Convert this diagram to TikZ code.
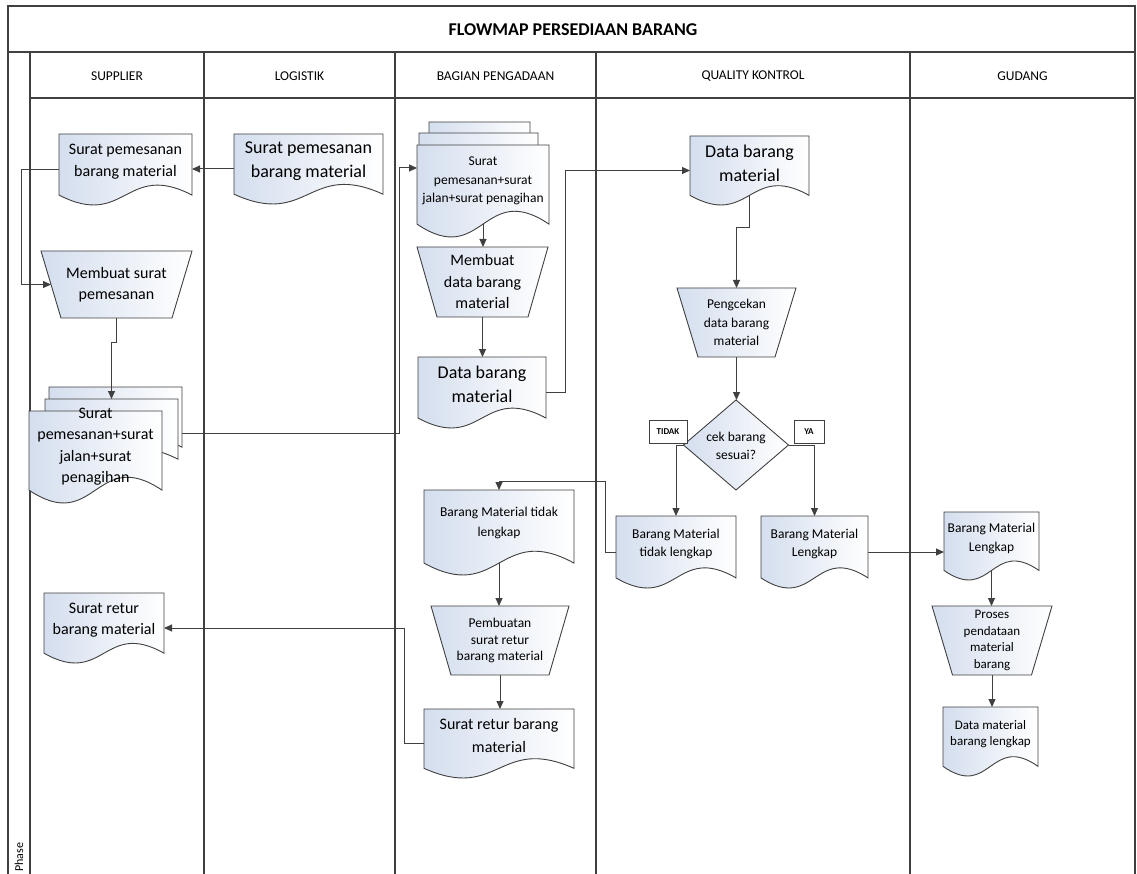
\documentclass[tikz,border=0pt]{standalone}
\usepackage{fontspec}
\setmainfont{Carlito}
\usetikzlibrary{arrows.meta,calc}
\pgfdeclarelayer{bg}
\pgfsetlayers{bg,main}
\definecolor{ln}{HTML}{404040}
\definecolor{shd}{RGB}{212,222,238}
\newcommand{\ftXL}{\fontsize{18}{24}\selectfont}
\newcommand{\ftL}{\fontsize{16}{21.5}\selectfont}
\newcommand{\ftM}{\fontsize{13.5}{18.5}\selectfont}
\newcommand{\ftP}{\fontsize{13.5}{16.5}\selectfont}
\newcommand{\ftS}{\fontsize{13}{16.5}\selectfont}
\tikzset{
  frame/.style={draw=ln, line width=1.2pt},
  shp/.style={draw=ln, line width=0.9pt, left color=shd, right color=white},
  conn/.style={draw=ln, line width=1pt},
  arr/.style={conn, -{Triangle[length=8pt,width=7pt]}},
  box/.style={inner sep=0pt, outer sep=0pt, draw=none},
  txt/.style={align=center, inner sep=0pt},
  lbl/.style={draw=ln, line width=1pt, fill=white, inner sep=0pt, font=\bfseries\fontsize{9}{10}\selectfont, minimum height=23pt},
  hdr/.style={font=\fontsize{13.5}{15}\selectfont, inner sep=0pt},
}
\newcommand{\docpath}[4]{%
  \pgfmathsetmacro\docD{0.14*(#4)}%
  \pgfmathsetmacro\docB{(#2)+(#4)-\docD}%
  \pgfmathsetmacro\docK{3.46*\docD}%
  \pgfmathsetmacro\docC{((#1)+(#3))/2}%
  \path[shp] (#1,#2) -- (#3,#2) -- (#3,\docB) .. controls (\docC,\docB-\docK) and (\docC,\docB+\docK) .. (#1,\docB) -- cycle;%
}
\newcommand{\docnode}[7]{%
  \docpath{#2}{#3}{#4}{#5}%
  \node[box, minimum width={(#4)-(#2)}, minimum height={#5}] (#1) at ({((#2)+(#4))/2},{(#3)+(#5)/2}) {};%
  \node[txt, font={#6}] (#1-t) at ({((#2)+(#4))/2},{(#3)+0.39*(#5)}) {#7};%
}
\newcommand{\trapnode}[8]{%
  \path[shp] ({(#2)-(#4)/2},{(#3)-(#6)/2}) -- ({(#2)+(#4)/2},{(#3)-(#6)/2}) -- ({(#2)+(#5)/2},{(#3)+(#6)/2}) -- ({(#2)-(#5)/2},{(#3)+(#6)/2}) -- cycle;%
  \node[box, minimum width={((#4)+(#5))/2}, minimum height={#6}] (#1) at (#2,#3) {};%
  \node[txt, font={#7}] (#1-t) at (#2,#3) {#8};%
}
\begin{document}
\begin{tikzpicture}[x=1pt,y=-1pt]
\useasboundingbox (0,0) rectangle (1137,874);

% ---------- frame ----------
\begin{pgfonlayer}{bg}
\fill[white] (0,0) rectangle (1137,874);
\draw[frame] (8,874) -- (8,6) -- (1135,6) -- (1135,874);
\draw[frame] (8,52) -- (1135,52);
\draw[frame] (30,98) -- (1135,98);
\foreach \xx in {30,204,395,596,910} {\draw[frame] (\xx,52) -- (\xx,874);}
\end{pgfonlayer}

\node[font=\bfseries\fontsize{18}{21}\selectfont, inner sep=0pt] (title) at (573,30) {FLOWMAP PERSEDIAAN BARANG};
\node[hdr] (hsup) at (117,76) {SUPPLIER};
\node[hdr] (hlog) at (299.5,76) {LOGISTIK};
\node[hdr] (hpg) at (495.5,76) {BAGIAN PENGADAAN};
\node[hdr] (hqc) at (753,76) {QUALITY KONTROL};
\node[hdr] (hgd) at (1022.5,76) {GUDANG};
\node[rotate=90, anchor=west, font=\fontsize{12}{14}\selectfont, inner sep=0pt] (phase) at (19,872) {Phase};

% ---------- supplier ----------
\docnode{sup1}{59}{134}{192}{71}{\ftL}{Surat pemesanan\\barang material}
\trapnode{sup2}{116.5}{284.5}{151}{111}{67}{\ftL}{Membuat surat\\pemesanan}
\docpath{49}{387}{182}{70}
\docpath{45}{399}{178}{70}
\coordinate (sup3m) at (111.5,399);
\coordinate (sup3b) at (182,433);
\docnode{sup3}{29}{411}{162}{92}{\ftL}{Surat\\pemesanan+surat\\jalan+surat\\penagihan}
\docnode{sup4}{44}{593}{164}{70}{\ftL}{Surat retur\\barang material}

% ---------- logistik ----------
\docnode{log1}{234}{134}{383}{70}{\ftXL}{Surat pemesanan\\barang material}

% ---------- pengadaan ----------
\docpath{429}{122}{530}{70}
\docpath{419}{133}{538}{70}
\docnode{pg1}{417}{145}{549}{92}{\ftM}{Surat\\pemesanan+surat\\jalan+surat penagihan}
\trapnode{pg2}{482.5}{282}{131}{91}{70}{\ftL}{Membuat\\data barang\\material}
\docnode{pg3}{418}{357}{546}{71}{\ftXL}{Data barang\\material}
\docnode{pg4}{424}{490}{574}{85}{\fontsize{13.5}{20}\selectfont}{Barang Material tidak\\lengkap}
\trapnode{pg5}{500}{640.5}{138}{98}{69}{\ftP}{Pembuatan\\surat retur\\barang material}
\docnode{pg6}{424}{709}{574}{69}{\fontsize{16}{23}\selectfont}{Surat retur barang\\material}

% ---------- quality kontrol ----------
\docnode{qc1}{690}{136}{809}{69}{\ftXL}{Data barang\\material}
\trapnode{qc2}{736.5}{322.5}{119}{77}{69}{\ftM}{Pengcekan\\data barang\\material}
\path[shp] (736,400) -- (788.5,445) -- (736,490) -- (683.5,445) -- cycle;
\node[box, minimum width=105pt, minimum height=90pt] (qc3) at (736,445) {};
\node[txt, font=\fontsize{13.5}{18}\selectfont] (qc3-t) at (736,446) {cek barang\\sesuai?};
\node[lbl, minimum width=38pt] (tidak) at (668,431.5) {TIDAK};
\node[lbl, minimum width=30pt] (ya) at (809,431.5) {YA};
\docnode{qc4}{616}{516}{736}{72}{\ftM}{Barang Material\\tidak lengkap}
\docnode{qc5}{761}{516}{868}{72}{\ftM}{Barang Material\\Lengkap}

% ---------- gudang ----------
\docnode{gd1}{944}{512}{1039}{68}{\ftM}{Barang Material\\Lengkap}
\trapnode{gd2}{992}{640.5}{120}{79}{69}{\ftS}{Proses\\pendataan\\material\\barang}
\docnode{gd3}{943}{707}{1038}{69}{\ftS}{Data material\\barang lengkap}

% ---------- connectors ----------
\begin{pgfonlayer}{bg}
\draw[arr] (log1.west) -- (log1.west -| sup1.east);
\draw[arr] (sup1.west) -- ++(-38,0) |- (sup2.west);
\draw[arr] (sup3b) -- ++(217,0) |- ([yshift=23pt]pg1.west);
\draw[arr] (pg1.center) -- (pg1.center |- pg2.north);
\draw[arr] (pg2.south) -- (pg2.south |- pg3.north);
\draw[arr] (pg3.east) -- ++(19,0) |- (qc1.west);
\draw[arr] (qc1.center) -- ++(0,57) -| (qc2.north);
\draw[arr] (qc2.south) -- (qc2.south |- qc3.north);
\draw[arr] (qc3.west) -| (qc4.north);
\draw[arr] (qc3.east) -| (qc5.north);
\draw[arr] (qc5.east) -- (qc5.east -| gd1.west);
\draw[arr] (qc4.west) -- ++(-11,0) |- ([yshift=9pt]pg4.north) -- (pg4.north);
\draw[arr] (pg4.center) -- (pg4.center |- pg5.north);
\draw[arr] (pg5.south) -- (pg5.south |- pg6.north);
\draw[arr] (pg6.west) -- ++(-20,0) |- (sup4.east);
\draw[arr] (gd1.center) -- (gd1.center |- gd2.north);
\draw[arr] (gd2.south) -- (gd2.south |- gd3.north);
\end{pgfonlayer}
\draw[arr] (sup2.south) -- ++(0,24) -| (sup3m);
\end{tikzpicture}
\end{document}
